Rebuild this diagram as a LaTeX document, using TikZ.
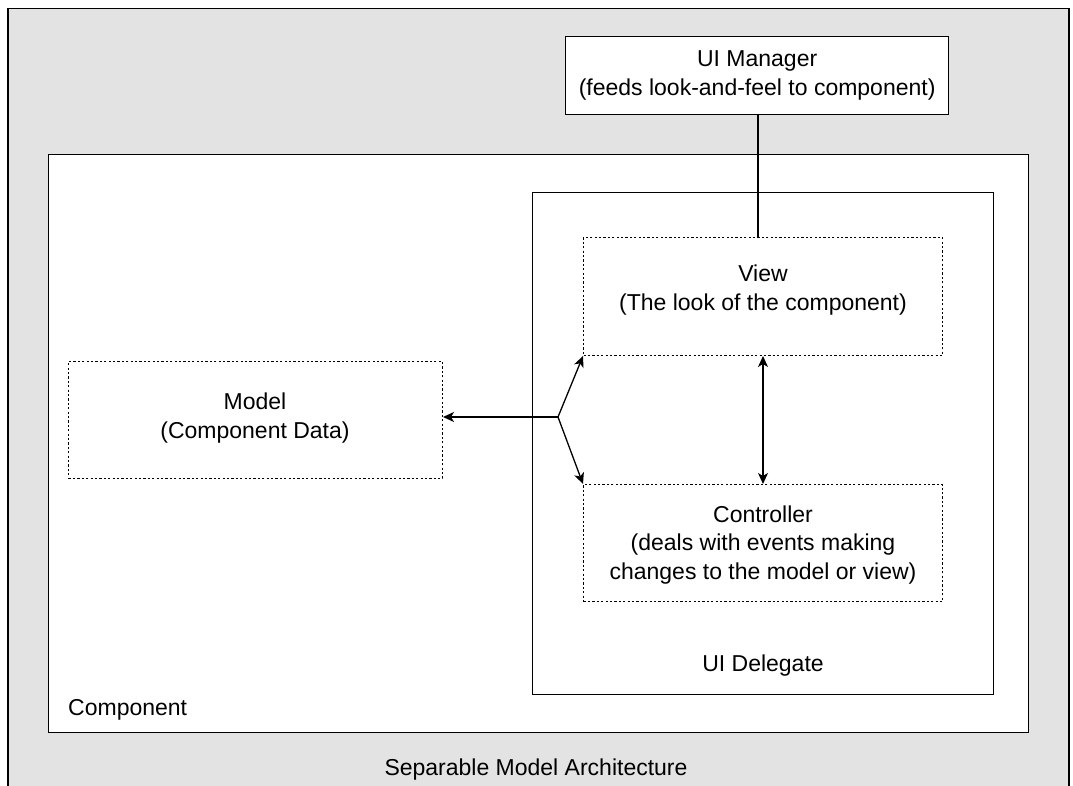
\documentclass[tikz,border=0pt]{standalone}
\usepackage{fontspec}
\setmainfont{Liberation Sans}
\usetikzlibrary{arrows.meta}
\definecolor{bggrey}{HTML}{E3E3E3}
\tikzset{
  solidbox/.style={draw=black, line width=1.3pt, inner sep=0pt, fill=white},
  dotbox/.style={draw=black, line width=1pt, dash pattern=on 2.2pt off 2.2pt, inner sep=0pt, align=center, fill=white},
  lbl/.style={inner sep=0pt, align=center, font=\fontsize{23}{28.5}\selectfont},
  conn/.style={draw=black, line width=1.3pt},
  arr/.style={conn, -{Stealth[length=11pt,width=10pt,inset=3pt]}},
  darr/.style={conn, {Stealth[length=11pt,width=10pt,inset=3pt]}-{Stealth[length=11pt,width=10pt,inset=3pt]}},
}
\begin{document}
\begin{tikzpicture}[x=1pt,y=-1pt]
\useasboundingbox (0,0) rectangle (1073,786);
\clip (0,0) rectangle (1073,786);
% outer grey frame
\node[draw=black, line width=1.5pt, fill=bggrey, inner sep=0pt, minimum width=1061pt, minimum height=790pt, anchor=north west] (frame) at (7,8) {};
\node[lbl, anchor=center] (title) at (536,770) {Separable Model Architecture};
% component
\node[solidbox, minimum width=980pt, minimum height=578pt, anchor=north west] (comp) at (48,154) {};
\node[lbl, anchor=west] (complbl) at (68,710) {Component};
% UI delegate
\node[solidbox, minimum width=461pt, minimum height=502pt, anchor=north west] (deleg) at (532,192) {};
\node[lbl] (deleglbl) at (763,666) {UI Delegate};
% UI manager
\node[solidbox, minimum width=383pt, minimum height=78pt, anchor=north west] (uim) at (565,36) {};
\node[lbl] (uimlbl) at (uim.center) {UI Manager\\(feeds look-and-feel to component)};
% view
\node[dotbox, minimum width=359pt, minimum height=118pt, anchor=north west] (view) at (583,237) {};
\node[lbl] (viewlbl) at (763,290) {View\\(The look of the component)};
% controller
\node[dotbox, minimum width=359pt, minimum height=117pt, anchor=north west] (ctrl) at (583,484) {};
\node[lbl] (ctrllbl) at (763,545) {Controller\\(deals with events making\\changes to the model or view)};
% model
\node[dotbox, minimum width=374pt, minimum height=117pt, anchor=north west] (model) at (68,361) {};
\node[lbl] (modellbl) at (255,418) {Model\\(Component Data)};
% connectors
\coordinate (j) at (558,417);
\draw[conn] (uim.south -| 758,0) -- (view.north -| 758,0);
\draw[arr] (j) -- (model.east |- j);
\draw[arr] (j) -- (view.south west);
\draw[arr] (j) -- (ctrl.north west);
\draw[darr] (view.south) -- (ctrl.north);
\end{tikzpicture}
\end{document}
